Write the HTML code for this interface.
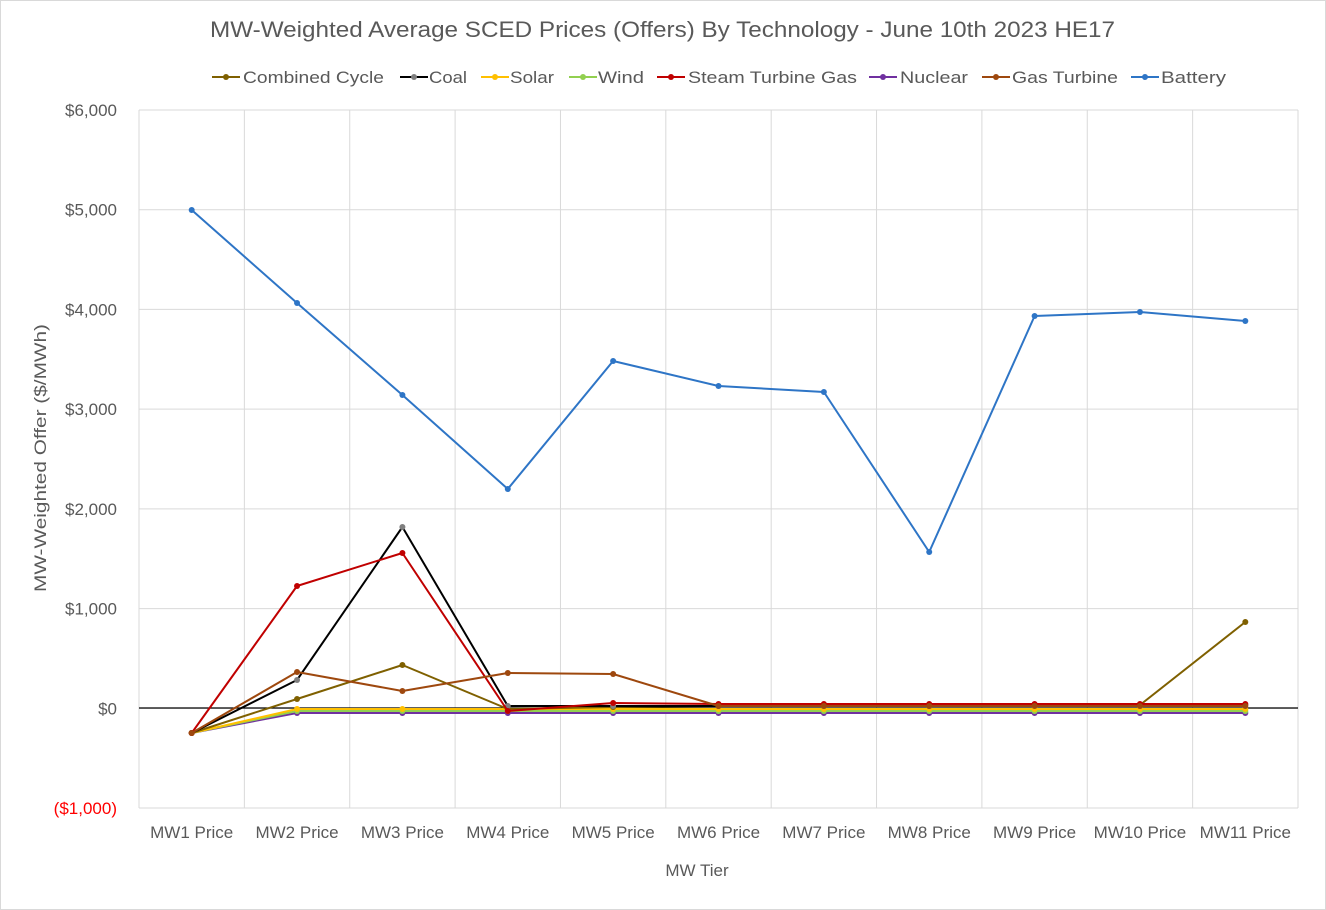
<!DOCTYPE html>
<html><head><meta charset="utf-8"><style>
html,body{margin:0;padding:0;background:#fff;}
svg{display:block;font-family:"Liberation Sans",sans-serif;}
</style></head><body>
<svg id="c" width="1326" height="910" viewBox="0 0 1326 910" xmlns="http://www.w3.org/2000/svg">
<rect x="0.5" y="0.5" width="1325" height="909" fill="#fff" stroke="#d9d9d9"/>
<text x="210" y="37" font-size="22" fill="#595959" textLength="905" lengthAdjust="spacingAndGlyphs">MW-Weighted Average SCED Prices (Offers) By Technology - June 10th 2023 HE17</text>
<text transform="translate(46,458) rotate(-90)" text-anchor="middle" font-size="17" fill="#595959" textLength="268" lengthAdjust="spacingAndGlyphs">MW-Weighted Offer ($/MWh)</text>
<text x="697" y="876" text-anchor="middle" font-size="17" fill="#595959">MW Tier</text>
<g id="g"></g>
</svg>
<script>
var ns="http://www.w3.org/2000/svg",g=document.getElementById('g');
function el(t,a,txt){var e=document.createElementNS(ns,t);for(var k in a)e.setAttribute(k,a[k]);if(txt!==undefined)e.textContent=txt;g.appendChild(e);return e;}
var L=139,R=1298,T=110,B=808,cw=(R-L)/11;
for(var i=0;i<=7;i++){var y=T+i*(B-T)/7;el('line',{x1:L,x2:R,y1:y,y2:y,stroke:'#d9d9d9','stroke-width':1});
 var v=6000-1000*i;var lab=v<0?'($1,000)':(v==0?'$0':'$'+(v/1000)+',000');
 el('text',{x:117,y:y+6,'text-anchor':'end','font-size':17,fill:v<0?'#ff0000':'#595959'},lab);}
for(var i=0;i<=11;i++){var x=L+i*cw;el('line',{x1:x,x2:x,y1:T,y2:B,stroke:'#d9d9d9','stroke-width':1});}
for(var i=0;i<11;i++){el('text',{x:L+cw*(i+0.5),y:838,'text-anchor':'middle','font-size':17,fill:'#595959'},'MW'+(i+1)+' Price');}
el('line',{x1:L,x2:R,y1:708,y2:708,stroke:'#000','stroke-width':1.2});
var S=[
['Nuclear','#7030a0','#7030a0',[733,713,713,713,713,713,713,713,713,713,713]],
['Wind','#92d050','#92d050',[733,711,711,711,711,711,711,711,711,711,711]],
['Solar','#ffc000','#ffc000',[733,709,709,709,709,709,709,709,709,709,709]],
['Combined Cycle','#7f6000','#7f6000',[733,699,665,709,707,706,706,706,705,705,622]],
['Coal','#000000','#7f7f7f',[733,680,527,706,706,706,706,706,705,705,705]],
['Steam Turbine Gas','#c00000','#c00000',[733,586,553,711,703,704,704,704,704,704,704]],
['Gas Turbine','#9e480e','#9e480e',[733,672,691,673,674,706,706,706,706,706,706]],
['Battery','#2e75c6','#2e75c6',[210,303,395,489,361,386,392,552,316,312,321]]];
S.forEach(function(s){var p=s[3].map(function(y,i){return (L+cw*(i+0.5)).toFixed(1)+','+y;}).join(' ');
 el('polyline',{points:p,fill:'none',stroke:s[1],'stroke-width':2,'stroke-linejoin':'round'});
 s[3].forEach(function(y,i){el('circle',{cx:L+cw*(i+0.5),cy:y,r:3,fill:s[2]});});});
var Lg=[['Combined Cycle',212,243,141,'#7f6000','#7f6000'],['Coal',400,429,38,'#000','#7f7f7f'],['Solar',481,510,44,'#ffc000','#ffc000'],['Wind',569,598,46,'#92d050','#92d050'],['Steam Turbine Gas',657,688,169,'#c00000','#c00000'],['Nuclear',869,900,68,'#7030a0','#7030a0'],['Gas Turbine',982,1012,106,'#9e480e','#9e480e'],['Battery',1131,1161,65,'#2e75c6','#2e75c6']];
Lg.forEach(function(l){el('line',{x1:l[1],x2:l[1]+28,y1:77,y2:77,stroke:l[4],'stroke-width':2});
 el('circle',{cx:l[1]+14,cy:77,r:3,fill:l[5]});
 el('text',{x:l[2],y:83,'font-size':17,fill:'#595959',textLength:l[3],lengthAdjust:'spacingAndGlyphs'},l[0]);});
</script>
</body></html>
